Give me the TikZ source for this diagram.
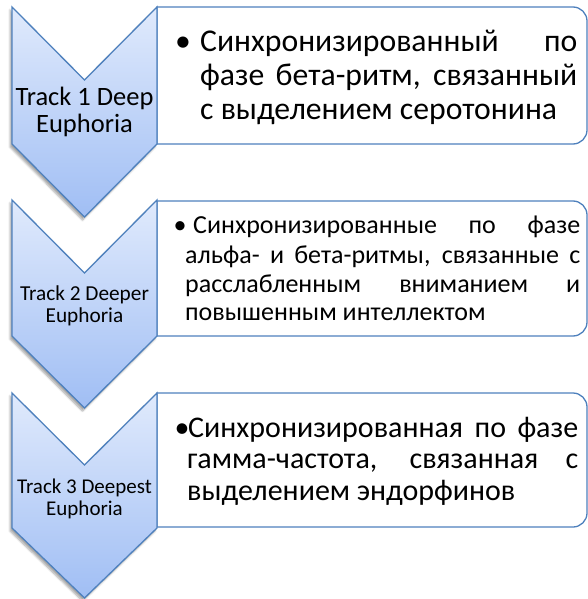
\documentclass[tikz,border=0pt]{standalone}
\usepackage{fontspec}
\setmainfont{Carlito}
\usetikzlibrary{shadows.blur}
\definecolor{edgeblue}{RGB}{79,129,189}
\definecolor{chevtop}{RGB}{224,234,252}
\definecolor{chevbot}{RGB}{160,190,244}
\tikzset{
  chev/.style={draw=edgeblue, line width=1.3pt, line join=miter, top color=chevtop, bottom color=chevbot,
    blur shadow={shadow xshift=-2pt, shadow yshift=-3pt, shadow blur steps=6, shadow opacity=35}},
  infobox/.style={draw=edgeblue, line width=1.3pt, fill=white},
  lbl/.style={align=center, inner sep=0pt},
  ln/.style={anchor=base west, inner sep=0pt},
  bul/.style={anchor=base, inner sep=0pt},
  fa/.style={font=\fontsize{31.7}{34}\selectfont},
  fb/.style={font=\fontsize{26}{29}\selectfont},
  fc/.style={font=\fontsize{30}{32}\selectfont},
}
\begin{document}
\begin{tikzpicture}[x=1pt,y=-1pt]
\useasboundingbox (0,0) rectangle (588,599);
% boxes
\draw[infobox] (157,7) -- (573,7) .. controls (580.7,7) and (587,13.3) .. (587,21) -- (587,130)
  .. controls (587,137.7) and (580.7,144) .. (573,144) -- (157,144) -- cycle;
\draw[infobox] (157,201) -- (573,201) .. controls (580.7,201) and (587,207.3) .. (587,215) -- (587,322)
  .. controls (587,329.7) and (580.7,336) .. (573,336) -- (157,336) -- cycle;
\draw[infobox] (157,393) -- (573,393) .. controls (580.7,393) and (587,399.3) .. (587,407) -- (587,513)
  .. controls (587,520.7) and (580.7,527) .. (573,527) -- (157,527) -- cycle;
% chevrons
\path[chev] (12,7) -- (84.5,80) -- (157,7) -- (157,144) -- (84.5,217) -- (12,144) -- cycle;
\path[chev] (12,200) -- (84.5,273) -- (157,200) -- (157,336) -- (84.5,408) -- (12,336) -- cycle;
\path[chev] (12,393) -- (84.5,465) -- (157,393) -- (157,528) -- (84.5,598) -- (12,528) -- cycle;
% chevron labels
\node[lbl, font=\fontsize{26.5}{27.5}\selectfont] (c1) at (84.5,112) {Track 1 Deep\\Euphoria};
\node[lbl, font=\fontsize{21.3}{21.5}\selectfont] (c2) at (84.5,306) {Track 2 Deeper\\Euphoria};
\node[lbl, font=\fontsize{21}{22}\selectfont] (c3) at (84.5,499) {Track 3 Deepest\\Euphoria};
% box 1 text
\node[bul, fa] (b1) at (183,52) {•};
\node[ln, fa] (t1a) at (200,52) {\makebox[377pt][s]{Синхронизированный по}};
\node[ln, fa] (t1b) at (200,86) {\makebox[377pt][s]{фазе бета-ритм, связанный}};
\node[ln, fa] (t1c) at (200,119) {с выделением серотонина};
% box 2 text
\node[bul, fb] (b2) at (180,233) {•};
\node[ln, fb] (t2a) at (193,233) {\makebox[387pt][s]{Синхронизированные по фазе}};
\node[ln, fb] (t2b) at (185,263) {\makebox[395pt][s]{альфа- и бета-ритмы, связанные с}};
\node[ln, fb] (t2c) at (185,292) {\makebox[395pt][s]{расслабленным вниманием и}};
\node[ln, fb] (t2d) at (185,320) {повышенным интеллектом};
% box 3 text
\node[bul, fc] (b3) at (182,437) {•};
\node[ln, fc] (t3a) at (188,437) {\makebox[390pt][s]{Синхронизированная по фазе}};
\node[ln, fc] (t3b) at (187,468) {\makebox[391pt][s]{гамма-частота, связанная с}};
\node[ln, fc] (t3c) at (187,500) {выделением эндорфинов};
\end{tikzpicture}
\end{document}
